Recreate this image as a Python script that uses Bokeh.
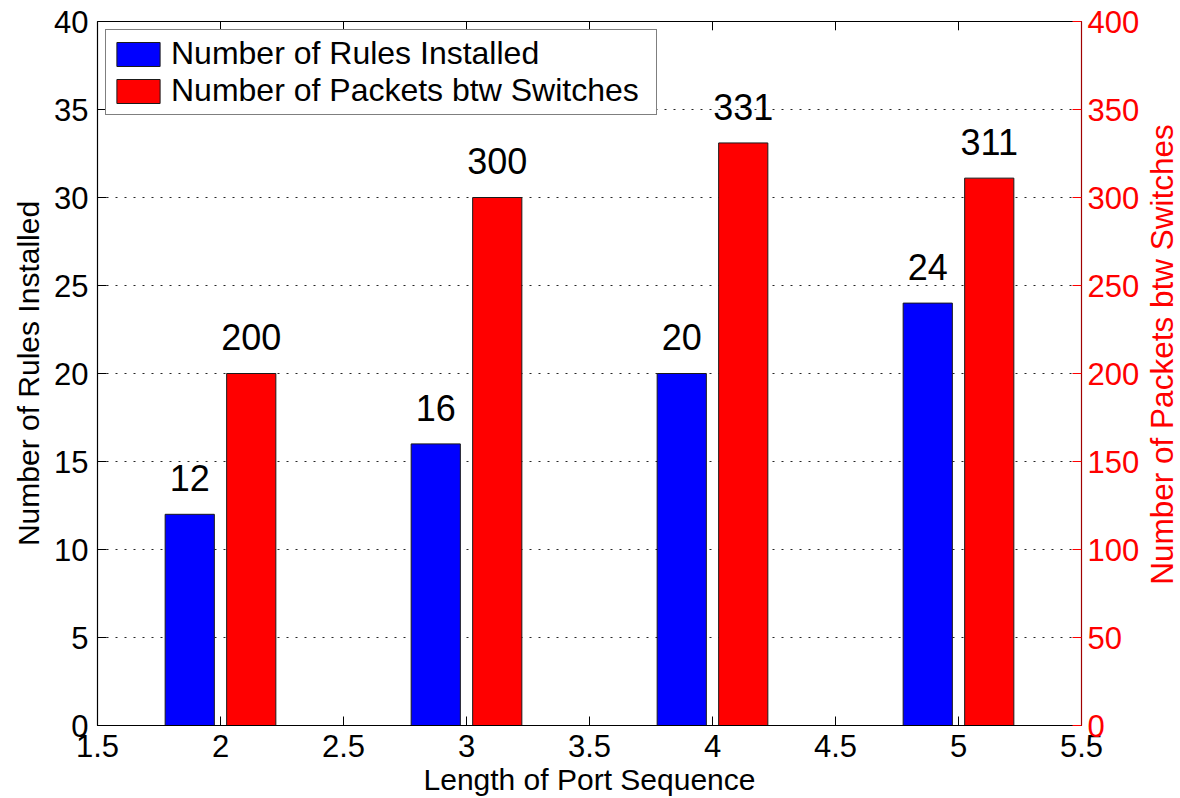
import math
from bokeh.plotting import figure
from bokeh.layouts import row
from bokeh.models import (Range1d, LinearAxis, Legend, LegendItem,
                          ColumnDataSource, FixedTicker)
from bokeh.transform import dodge
from bokeh.core.properties import value
from bokeh.embed import file_html
from bokeh.resources import INLINE

# ---- data ----
port_length = [2, 3, 4, 5]
rules_installed = [12, 16, 20, 24]
packets_btw_switches = [200, 300, 331, 311]
x_ticks = [1.5, 2, 2.5, 3, 3.5, 4, 4.5, 5, 5.5]
left_ticks = [0, 5, 10, 15, 20, 25, 30, 35, 40]
right_ticks = [0, 50, 100, 150, 200, 250, 300, 350, 400]
series_names = ["Number of Rules Installed", "Number of Packets btw Switches"]
x_title = "Length of Port Sequence"

FONT = "Liberation Sans"
TICK_FS = "31px"
LABEL_FS = "30px"

src = ColumnDataSource(dict(
    x=port_length,
    rules=rules_installed,
    packets=packets_btw_switches,
    rules_txt=[str(v) for v in rules_installed],
    packets_txt=[str(v) for v in packets_btw_switches],
))

p = figure(width=1142, height=798,
           x_range=Range1d(1.5, 5.5), y_range=Range1d(0, 40),
           output_backend="svg", toolbar_location=None,
           min_border_left=97, min_border_right=60,
           min_border_top=21, min_border_bottom=72)
p.extra_y_ranges = {"packets": Range1d(0, 400)}
p.background_fill_color = "white"
p.border_fill_color = "white"
p.outline_line_color = "black"
p.outline_line_width = 1

# grid
p.xgrid.visible = False
p.ygrid.ticker = FixedTicker(ticks=left_ticks)
p.ygrid.grid_line_color = "black"
p.ygrid.grid_line_dash = "2 7"
p.ygrid.grid_line_width = 1
p.ygrid.grid_line_alpha = 0.85

BAR_W = 0.2
OFF = 0.125

blue = p.vbar(x=dodge("x", -OFF), top="rules", width=BAR_W, bottom=0,
              source=src, fill_color="#0000ff", line_color="#1a1a1a",
              line_width=1)
red = p.vbar(x=dodge("x", OFF), top="packets", width=BAR_W, bottom=0,
             source=src, fill_color="#ff0000", line_color="#1a1a1a",
             line_width=1, y_range_name="packets")

# value labels above bars (gap expressed in each axis' units)
p.text(x=dodge("x", -OFF), y=dodge("rules", 2.05), text="rules_txt", source=src,
       text_align="center", text_baseline="middle",
       text_font=value(FONT), text_font_size="36px", text_color="black")
p.text(x=dodge("x", OFF), y=dodge("packets", 20.5), text="packets_txt", source=src,
       text_align="center", text_baseline="middle",
       text_font=value(FONT), text_font_size="36px", text_color="black",
       y_range_name="packets")

# inward ticks along the top edge
top_y = left_ticks[-1]
p.segment(x0=x_ticks, y0=[top_y] * len(x_ticks), x1=x_ticks,
          y1=[top_y - 0.5] * len(x_ticks), line_color="black", line_width=1)

def style_axis(ax, color="black", line_color="black"):
    ax.axis_line_color = line_color
    ax.axis_line_width = 1.2
    ax.major_tick_in = 9
    ax.major_tick_out = 0
    ax.major_tick_line_color = color
    ax.minor_tick_in = 0
    ax.minor_tick_out = 0
    ax.minor_tick_line_color = None
    ax.major_label_text_font = FONT
    ax.major_label_text_font_size = TICK_FS
    ax.major_label_text_color = color
    ax.axis_label_text_font = FONT
    ax.axis_label_text_font_size = LABEL_FS
    ax.axis_label_text_font_style = "normal"
    ax.axis_label_text_color = color

# bottom axis
xa = p.xaxis[0]
xa.ticker = FixedTicker(ticks=x_ticks)
style_axis(xa)
xa.axis_label = x_title
xa.major_label_standoff = 9
xa.axis_label_standoff = 3

# left axis
ya = p.yaxis[0]
ya.ticker = FixedTicker(ticks=left_ticks)
style_axis(ya)
ya.axis_label = series_names[0]
ya.major_label_standoff = 9
ya.axis_label_standoff = 6

# right axis (ticks + numbers; title drawn in the strip beside it)
ra = LinearAxis(y_range_name="packets", ticker=FixedTicker(ticks=right_ticks))
style_axis(ra, color="#ff0000", line_color="#a00000")
ra.major_label_standoff = 6
p.add_layout(ra, "right")

legend = Legend(items=[LegendItem(label=series_names[0], renderers=[blue]),
                       LegendItem(label=series_names[1], renderers=[red])],
                location="top_left")
legend.label_text_font = FONT
legend.label_text_font_size = "32px"
legend.label_text_color = "black"
legend.glyph_width = 54
legend.glyph_height = 30
legend.label_height = 30
legend.label_width = 480
legend.spacing = 0
legend.padding = 5
legend.margin = 8
legend.label_standoff = 6
legend.border_line_color = "black"
legend.border_line_width = 1
legend.background_fill_color = "white"
legend.background_fill_alpha = 1
p.add_layout(legend)

# narrow strip holding the right-hand axis title (reads bottom-to-top)
strip = figure(width=38, height=798, x_range=Range1d(0, 1), y_range=Range1d(0, 1),
               output_backend="svg", toolbar_location=None,
               x_axis_location=None, y_axis_location=None,
               min_border_left=0, min_border_right=0,
               min_border_top=0, min_border_bottom=0)
strip.outline_line_color = None
strip.xgrid.visible = False
strip.ygrid.visible = False
strip.background_fill_color = "white"
strip.border_fill_color = "white"
strip.text(x=[0.526], y=[0.527], text=[series_names[1]], angle=math.pi / 2,
           text_align="center", text_baseline="middle",
           text_font=value(FONT), text_font_size="31.5px", text_color="#ff0000")

layout = row(p, strip)
open("out.html", "w").write(file_html(layout, INLINE))
